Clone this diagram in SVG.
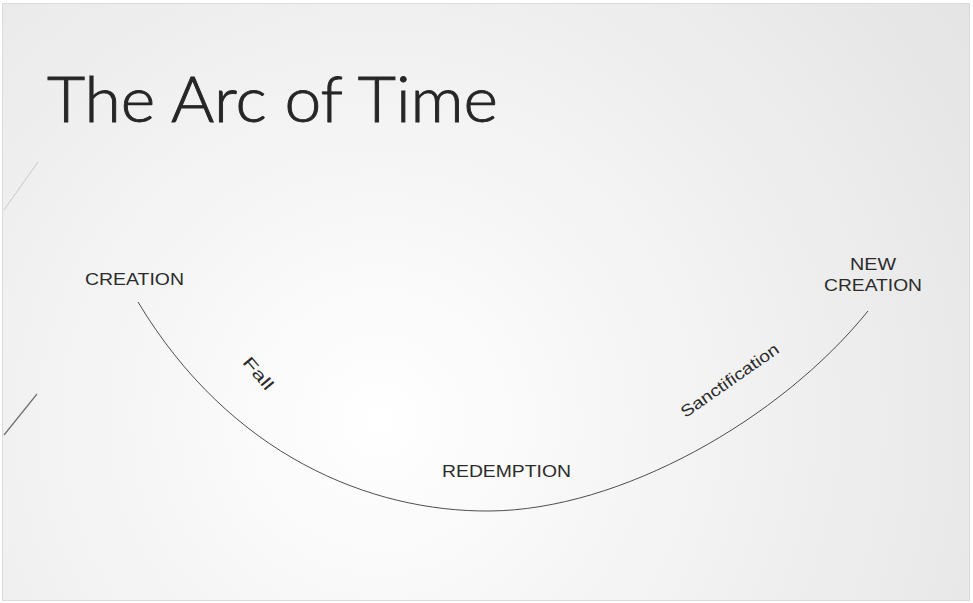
<svg xmlns="http://www.w3.org/2000/svg" width="973" height="603" viewBox="0 0 973 603">
<defs>
<radialGradient id="bg" cx="380" cy="420" r="720" gradientUnits="userSpaceOnUse">
<stop offset="0" stop-color="#ffffff"/>
<stop offset="1" stop-color="#e4e4e4"/>
</radialGradient>
<style>
.lbl{font-family:"Liberation Sans",Arial,sans-serif;font-size:16.5px;fill:#2b2b2b}
.title{font-family:"Lato","Open Sans",sans-serif;font-weight:300;font-size:64px;fill:#262626;stroke:#262626;stroke-width:0.9}
.arc{fill:none;stroke:#3a3a3a;stroke-width:0.9}
</style>
</defs>
<rect x="0" y="0" width="973" height="603" fill="#ffffff"/>
<rect x="2.5" y="3.5" width="967" height="597" fill="url(#bg)" stroke="#dcdcdc" stroke-width="1"/>
<line x1="38" y1="162" x2="4" y2="210" stroke="#c8c8c8" stroke-width="1"/>
<line x1="37" y1="394" x2="4" y2="435" stroke="#707070" stroke-width="1.2"/>
<text class="title" x="47" y="122" textLength="451" lengthAdjust="spacingAndGlyphs">The Arc of Time</text>
<g id="connectors">
<path class="arc" d="M138,302 C230,455 370,512 490,511 C620,510 780,420 868,311"/>
</g>
<g id="creation"><text class="lbl" x="85" y="285" textLength="99" lengthAdjust="spacingAndGlyphs">CREATION</text></g>
<g id="new-creation"><text class="lbl" x="850" y="270" textLength="46" lengthAdjust="spacingAndGlyphs">NEW</text><text class="lbl" x="824" y="291" textLength="98" lengthAdjust="spacingAndGlyphs">CREATION</text></g>
<g id="redemption"><text class="lbl" x="442" y="477" textLength="129" lengthAdjust="spacingAndGlyphs">REDEMPTION</text></g>
<g id="fall"><text class="lbl" x="-19" y="0" textLength="38" lengthAdjust="spacingAndGlyphs" transform="translate(254,377) rotate(50)">Fall</text></g>
<g id="sanctification"><text class="lbl" x="-58" y="0" textLength="116" lengthAdjust="spacingAndGlyphs" transform="translate(733,385) rotate(-35)">Sanctification</text></g>
</svg>
